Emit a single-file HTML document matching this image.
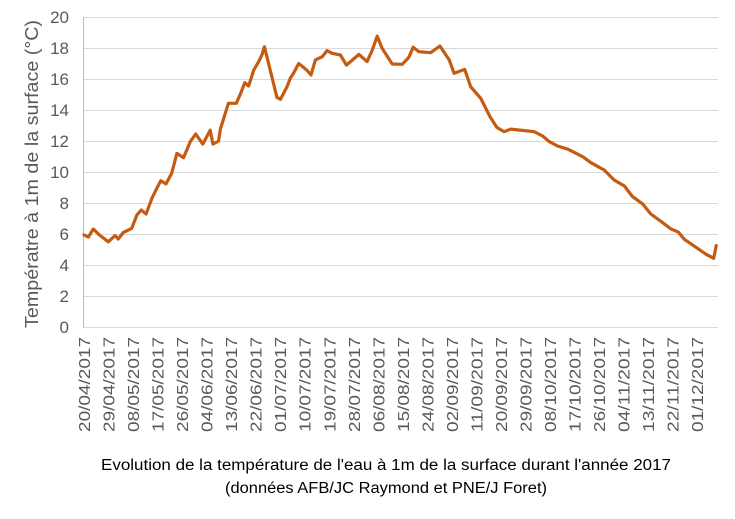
<!DOCTYPE html>
<html><head><meta charset="utf-8"><style>
body{margin:0;background:#fff;}
svg text{font-family:"Liberation Sans",sans-serif;}
</style></head><body>
<svg id="chart" width="735" height="514" viewBox="0 0 735 514">
<g id="grid"></g><g id="yticks"></g><g id="xticks"></g>
<line x1="83.5" y1="17" x2="83.5" y2="327" stroke="#9dc3e6" stroke-width="1"/>
<path id="series" fill="none" stroke="#c55a11" stroke-width="3.2" stroke-linejoin="round" stroke-linecap="round"/>
<text transform="translate(38,174) rotate(-90)" text-anchor="middle" font-size="18" fill="#595959" textLength="308" lengthAdjust="spacingAndGlyphs">Températre à 1m de la surface (°C)</text>
<text x="386" y="470" text-anchor="middle" font-size="15.5" fill="#000" textLength="570" lengthAdjust="spacingAndGlyphs">Evolution de la température de l'eau à 1m de la surface durant l'année 2017</text>
<text x="386" y="493" text-anchor="middle" font-size="15.5" fill="#000" textLength="322" lengthAdjust="spacingAndGlyphs">(données AFB/JC Raymond et PNE/J Foret)</text>
</svg>
<script>
const dayOffsets=[0,1.6,3.4,5.6,8.9,11.4,12.6,14.4,17.5,19.4,21,22.8,24.9,26.7,28.2,30.1,32.2,34.1,36.5,39,41,43.6,46.3,47.3,49.4,50,53,55.9,57.4,59,60.4,62.3,64.1,65.3,66.2,67.4,70.8,72.1,74.5,75.7,77,78.8,81.6,83.3,84.9,87.4,89.2,91,94.1,96.3,100.9,103.9,105.8,107.6,109.4,113.1,116.8,119.2,120.8,122.9,127.2,130.6,134,135.8,139.7,141.9,145.6,149,151.5,154.2,156.6,165.2,168.3,170.7,173.8,177.5,183,186,190.9,194.6,198.3,201.3,205,208,211.8,215.4,218.1,220.3,224.6,228.3,231.1,232];
const temps=[5.94,5.8,6.32,5.94,5.5,5.9,5.68,6.09,6.37,7.23,7.55,7.29,8.3,8.95,9.44,9.23,9.92,11.2,10.92,11.96,12.45,11.8,12.7,11.8,12.0,12.75,14.43,14.43,15.03,15.76,15.55,16.58,17.12,17.55,18.08,17.23,14.82,14.69,15.5,16.05,16.4,17.0,16.6,16.26,17.23,17.44,17.83,17.66,17.55,16.9,17.59,17.12,17.87,18.77,17.98,16.97,16.95,17.4,18.05,17.76,17.7,18.13,17.23,16.37,16.62,15.5,14.75,13.57,12.88,12.6,12.77,12.6,12.32,11.96,11.68,11.48,10.99,10.6,10.13,9.48,9.1,8.41,7.94,7.29,6.8,6.32,6.13,5.66,5.14,4.69,4.43,5.25];
const yTicks=[0,2,4,6,8,10,12,14,16,18,20];
const xTickLabels=["20/04/2017","29/04/2017","08/05/2017","17/05/2017","26/05/2017","04/06/2017","13/06/2017","22/06/2017","01/07/2017","10/07/2017","19/07/2017","28/07/2017","06/08/2017","15/08/2017","24/08/2017","02/09/2017","11/09/2017","20/09/2017","29/09/2017","08/10/2017","17/10/2017","26/10/2017","04/11/2017","13/11/2017","22/11/2017","01/12/2017"];
const xTickDays=[0,9,18,27,36,45,54,63,72,81,90,99,108,117,126,135,144,153,162,171,180,189,198,207,216,225];
const NS="http://www.w3.org/2000/svg";
function xs(d){return 84+d*2.725;}
function ys(v){return 327-v*15.5;}
const grid=document.getElementById('grid'),yt=document.getElementById('yticks'),xt=document.getElementById('xticks');
yTicks.forEach(v=>{
 const l=document.createElementNS(NS,'line');
 
 
 l.setAttribute('x1',83);l.setAttribute('x2',718);
 l.setAttribute('y1',ys(v)+0.5);l.setAttribute('y2',ys(v)+0.5);
 l.setAttribute('stroke','#d9d9d9');l.setAttribute('stroke-width','1');
 grid.appendChild(l);
 const t=document.createElementNS(NS,'text');
 
 
 t.setAttribute('x',69);t.setAttribute('y',ys(v)+6);
 t.setAttribute('text-anchor','end');t.setAttribute('font-size','17');t.setAttribute('fill','#595959');
 t.textContent=v;yt.appendChild(t);
});
xTickLabels.forEach((s,i)=>{
 const t=document.createElementNS(NS,'text');
 
 
 const x=xs(xTickDays[i])+6;
 t.setAttribute('transform','translate('+x+',337) rotate(-90)');
 t.setAttribute('text-anchor','end');t.setAttribute('font-size','16');t.setAttribute('fill','#595959');
 t.setAttribute('textLength','95');t.setAttribute('lengthAdjust','spacingAndGlyphs');
 t.textContent=s;xt.appendChild(t);
});
document.getElementById('series').setAttribute('d',dayOffsets.map((d,i)=>(i?'L':'M')+xs(d).toFixed(1)+','+ys(temps[i]).toFixed(1)).join(''));
</script>
</body></html>
